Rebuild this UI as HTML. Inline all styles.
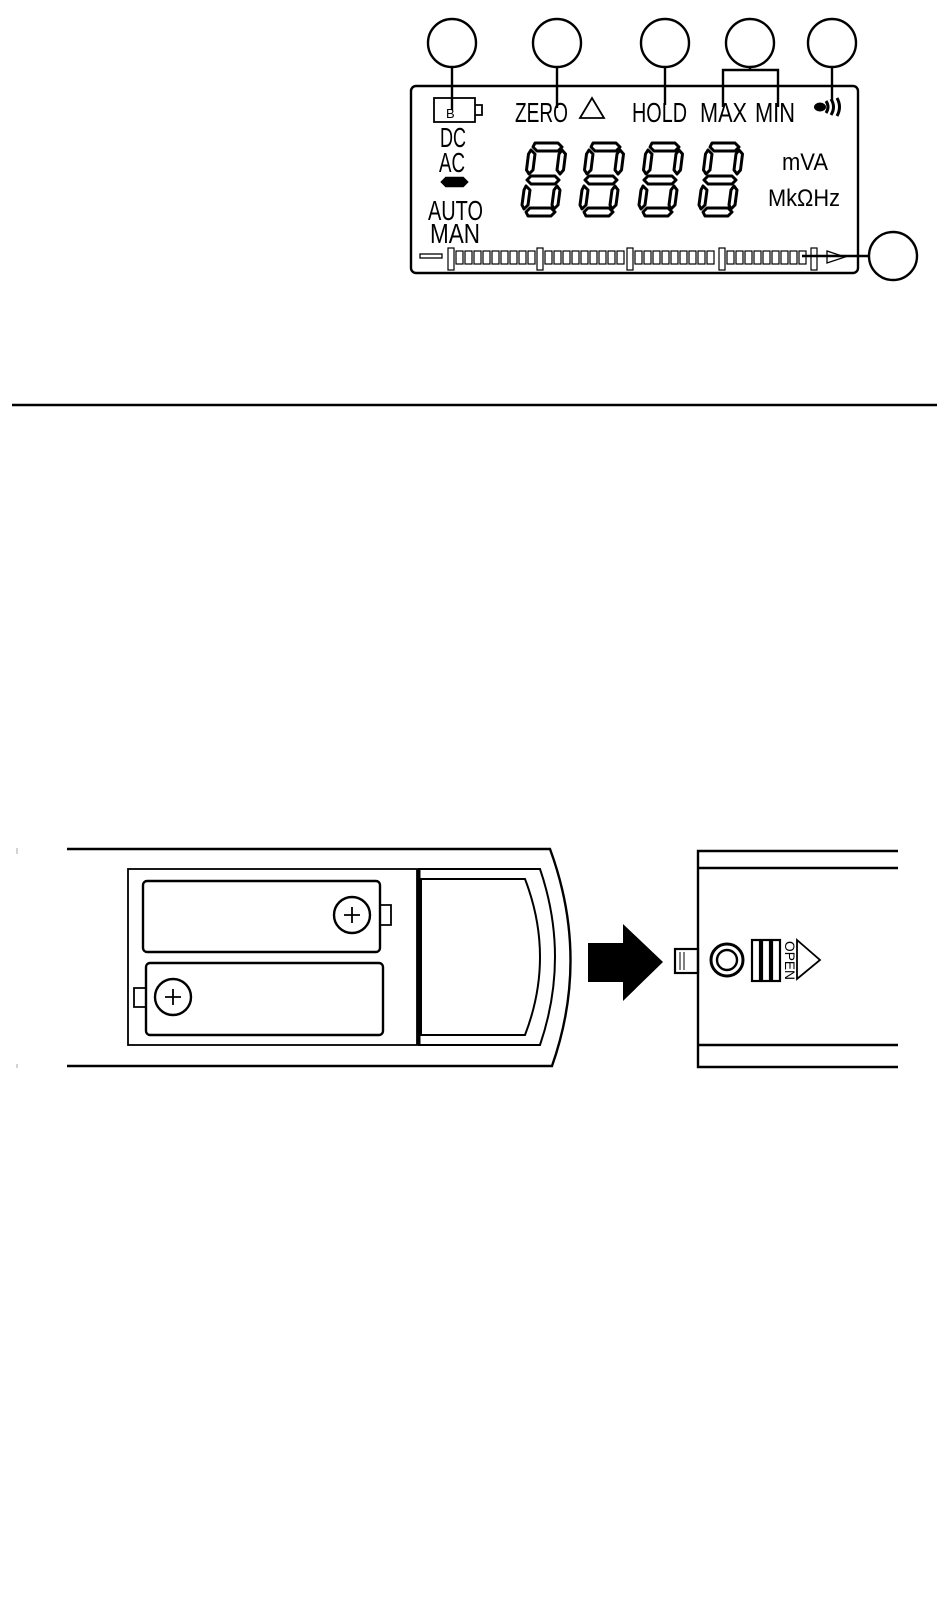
<!DOCTYPE html>
<html><head><meta charset="utf-8"><style>
html,body{margin:0;padding:0;background:#fff}
svg{display:block}
text{font-family:"Liberation Sans Narrow","Liberation Sans",sans-serif;fill:#000}
</style></head><body>
<svg width="950" height="1609" viewBox="0 0 950 1609" xmlns="http://www.w3.org/2000/svg">
<defs>
<g id="dg" fill="none" stroke="#000" stroke-width="3" stroke-linejoin="round">
  <polygon points="8,0 31,0 35,4 31,8 10,8 6,4"/>
  <polygon points="4,7 8,11 6,27 2,31 -0.5,27 1.5,11"/>
  <polygon points="35,7 38.5,11 36.5,27 33,31 30,27 32,11"/>
  <polygon points="4,33 28,33 32,37 28,41 4,41 0,37"/>
  <polygon points="-1,43 3,47 1,62 -3,66 -5,62 -3,47"/>
  <polygon points="30,43 33,47 31,62 27,66 25,62 27,47"/>
  <polygon points="-1,69 3,65 24,65 28,69 24,73 1,73"/>
</g>
</defs>
<g fill="none" stroke="#000" stroke-width="2.4">
<circle cx="452" cy="43" r="24"/><circle cx="557" cy="43" r="24"/><circle cx="665" cy="43" r="24"/>
<circle cx="750" cy="43" r="24"/><circle cx="832" cy="43" r="24"/><circle cx="893" cy="256" r="24"/>
<rect x="411" y="86" width="447" height="187" rx="5"/>
<path d="M452 67V110M557 67V108M665 67V105M750 67V70M723 107V70H778V107M832 67V102M802 256H869"/>
<rect x="434" y="98" width="41" height="24" stroke-width="1.8"/>
<path d="M475 105H482V115H475" stroke-width="1.8"/>
<path d="M580 118L592 98L604 118Z" stroke-width="1.8"/>
<path d="M442 182L446 178H463L467 182L463 186H446Z" fill="#000"/>
</g>
<text x="446" y="118" font-size="13">B</text>
<text x="515" y="122" font-size="28" textLength="53" lengthAdjust="spacingAndGlyphs">ZERO</text>
<text x="632" y="122" font-size="28" textLength="55" lengthAdjust="spacingAndGlyphs">HOLD</text>
<text x="700" y="122" font-size="28" textLength="47" lengthAdjust="spacingAndGlyphs">MAX</text>
<text x="755" y="122" font-size="28" textLength="40" lengthAdjust="spacingAndGlyphs">MIN</text>
<ellipse cx="820" cy="107" rx="6" ry="4.5"/>
<path d="M826 101q4 6 0 12M831 99q5 8 0 16M837 98q5 9 0 18" fill="none" stroke="#000" stroke-width="3"/>
<text x="440" y="147" font-size="28" textLength="26" lengthAdjust="spacingAndGlyphs">DC</text>
<text x="439" y="172" font-size="28" textLength="26" lengthAdjust="spacingAndGlyphs">AC</text>
<text x="428" y="220" font-size="28" textLength="55" lengthAdjust="spacingAndGlyphs">AUTO</text>
<text x="430" y="243" font-size="28" textLength="50" lengthAdjust="spacingAndGlyphs">MAN</text>
<text x="782" y="170" font-size="24" textLength="46" lengthAdjust="spacingAndGlyphs">mVA</text>
<text x="768" y="206" font-size="24" textLength="72" lengthAdjust="spacingAndGlyphs">MkΩHz</text>
<use href="#dg" x="527" y="143"/><use href="#dg" x="585" y="143"/><use href="#dg" x="644" y="143"/><use href="#dg" x="704" y="143"/>
<g fill="none" stroke="#000" stroke-width="1.3">
<rect x="420" y="254" width="22" height="4"/>
<path d="M827 251L845 257L827 263Z"/>
</g>
<g fill="none" stroke="#000" stroke-width="1.2">
<rect x="448" y="248" width="6" height="22"/>
<rect x="456" y="251" width="7" height="13"/><rect x="465" y="251" width="7" height="13"/><rect x="474" y="251" width="7" height="13"/><rect x="483" y="251" width="7" height="13"/><rect x="492" y="251" width="7" height="13"/><rect x="501" y="251" width="7" height="13"/><rect x="510" y="251" width="7" height="13"/><rect x="519" y="251" width="7" height="13"/><rect x="528" y="251" width="7" height="13"/>
<rect x="537" y="248" width="6" height="22"/>
<rect x="545" y="251" width="7" height="13"/><rect x="554" y="251" width="7" height="13"/><rect x="563" y="251" width="7" height="13"/><rect x="572" y="251" width="7" height="13"/><rect x="581" y="251" width="7" height="13"/><rect x="590" y="251" width="7" height="13"/><rect x="599" y="251" width="7" height="13"/><rect x="608" y="251" width="7" height="13"/><rect x="617" y="251" width="7" height="13"/>
<rect x="627" y="248" width="6" height="22"/>
<rect x="635" y="251" width="7" height="13"/><rect x="644" y="251" width="7" height="13"/><rect x="653" y="251" width="7" height="13"/><rect x="662" y="251" width="7" height="13"/><rect x="671" y="251" width="7" height="13"/><rect x="680" y="251" width="7" height="13"/><rect x="689" y="251" width="7" height="13"/><rect x="698" y="251" width="7" height="13"/><rect x="707" y="251" width="7" height="13"/>
<rect x="719" y="248" width="6" height="22"/>
<rect x="727" y="251" width="7" height="13"/><rect x="736" y="251" width="7" height="13"/><rect x="745" y="251" width="7" height="13"/><rect x="754" y="251" width="7" height="13"/><rect x="763" y="251" width="7" height="13"/><rect x="772" y="251" width="7" height="13"/><rect x="781" y="251" width="7" height="13"/><rect x="790" y="251" width="7" height="13"/><rect x="799" y="251" width="7" height="13"/>
<rect x="811" y="248" width="6" height="22"/>
</g>
<line x1="12" y1="405" x2="937" y2="405" stroke="#000" stroke-width="2.5"/>
<g fill="none" stroke="#000" stroke-width="2.4">
<path d="M67 849H550Q590 958 552 1066H67"/>
<rect x="128" y="869" width="289" height="176" stroke-width="1.8"/>
<rect x="143" y="881" width="237" height="71" rx="4"/>
<rect x="146" y="963" width="237" height="72" rx="4"/>
<circle cx="352" cy="915" r="18"/><circle cx="173" cy="997" r="18"/>
<path d="M344 915H360M352 907V923M165 997H181M173 989V1005" stroke-width="1.8"/>
<path d="M381 905H391V925H381M145 988H134V1007H145" stroke-width="1.8"/>
<path d="M419 869H540Q570 957 540 1045H419Z" stroke-width="2"/>
<path d="M421 879H525Q555 957 525 1035H421Z" stroke-width="2"/>
<line x1="419" y1="869" x2="419" y2="1045" stroke-width="3"/>
<path d="M898 851H698V1067H898M698 868H898M698 1045H898"/>
<rect x="675" y="949" width="23" height="24" stroke-width="2.2"/>
<path d="M680 952V970M684 952V970" stroke-width="1"/>
<circle cx="727" cy="960" r="16" stroke-width="3"/><circle cx="727" cy="960" r="10" stroke-width="2.4"/>
<rect x="752" y="940" width="8" height="41" stroke-width="2.2"/>
<rect x="762" y="940" width="8" height="41" stroke-width="2.2"/>
<rect x="772" y="940" width="8" height="41" stroke-width="2.2"/>
<path d="M797 940L820 960L797 979Z" stroke-width="1.8"/>
</g>
<path d="M588 943H623V924L663 962L623 1001V982H588Z" fill="#000"/>
<text transform="translate(785,941) rotate(90)" font-size="14" textLength="39" lengthAdjust="spacingAndGlyphs">OPEN</text>
<path d="M17 848V854M17 1064V1068" stroke="#aaa" stroke-width="1"/>
</svg>
</body></html>
